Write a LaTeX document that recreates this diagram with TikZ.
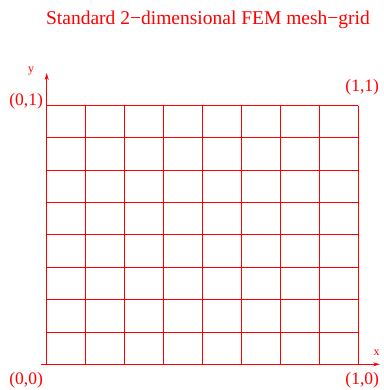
\documentclass[tikz,border=0pt]{standalone}
\usepackage{fontspec}
\setmainfont{Liberation Serif}
\usetikzlibrary{arrows.meta}

\begin{document}
\begin{tikzpicture}[
    x=311.6pt, y=258.8pt,
    font=\fontsize{17.5}{20}\selectfont,
    gridline/.style={red, line width=.9pt},
    axis/.style={red, line width=.9pt, -{Stealth[length=7pt,width=4pt]}},
    lbl/.style={text=red, inner sep=0pt},
    axlbl/.style={lbl, font=\fontsize{12}{14}\selectfont}
  ]
    \useasboundingbox (-0.1499,-0.0993) rectangle (1.0793,1.4077);
    \node[lbl, font=\fontsize{19.5}{22}\selectfont] (title) at (0.5176,1.330)
      {Standard 2−dimensional FEM mesh−grid};

    % mesh
    \foreach \i in {1,...,8} {
      \draw[gridline] (\i/8,0) -- (\i/8,1);
      \draw[gridline] (0,\i/8) -- (1,\i/8);
    }

    % axes
    \coordinate (o) at (0,0);
    \coordinate (xs) at (-0.018,0);
    \coordinate (xe) at (1.0696,0);
    \coordinate (ye) at (0,1.1256);
    \draw[axis] (xs) -- (xe);
    \draw[axis] (o) -- (ye);

    \node[axlbl] (xl) at (1.059,0.0456) {x};
    \node[axlbl] (yl) at (-0.0504,1.132) {y};
    \node[lbl] (c00) at (-0.066,-0.061) {(0,0)};
    \node[lbl] (c10) at (1.0125,-0.061) {(1,0)};
    \node[lbl] (c01) at (-0.066,1.0147) {(0,1)};
    \node[lbl] (c11) at (1.0125,1.0715) {(1,1)};
  \end{tikzpicture}
\end{document}
